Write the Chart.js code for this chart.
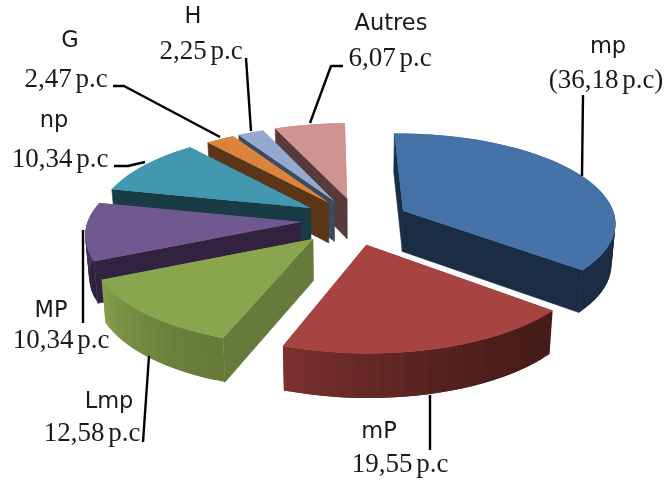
<!DOCTYPE html>
<html lang="fr">
<head>
<meta charset="utf-8">
<title>Répartition en p.c</title>
<style>
  html, body { margin: 0; padding: 0; background: #fff; }
  canvas { display: block; }
</style>
<script src="https://cdn.jsdelivr.net/npm/chart.js@4"></script>
</head>
<body>
<canvas id="chart" width="670" height="484"></canvas>
<script>
// Categories and their shares, clockwise from the top of the pie.
const categories = ['mp', 'mP', 'Lmp', 'MP', 'np', 'G', 'H', 'Autres'];
const shares = [36.18, 19.55, 12.58, 10.34, 10.34, 2.47, 2.25, 6.07];
const shareTexts = ['(36,18 p.c)', '19,55 p.c', '12,58 p.c', '10,34 p.c', '10,34 p.c', '2,47 p.c', '2,25 p.c', '6,07 p.c'];

// Slice colours: top face, radial wall, rim at the start and end of the slice.
const topColors = ['#4572A7', '#A74442', '#89A54E', '#71588F', '#4198AF', '#DB843D', '#93A9CF', '#D19392'];
const cutColors = ['#1A2D45', '#451C19', '#667A3B', '#31223F', '#193B46', '#5A3517', '#3C4A60', '#573A3A'];
const rimStartColors = ['#1A2D45', '#451C19', '#677A3A', '#2F2140', '#193B46', '#5A3517', '#3C4A60', '#573A3A'];
const rimEndColors = ['#1A2D45', '#7C312F', '#86A14C', '#5F4A7C', '#193B46', '#5A3517', '#3C4A60', '#573A3A'];

// Exploded distance of each slice, as a fraction of the radius, and fine shifts on screen.
const explode = [0.27, 0.30, 0.27, 0.23, 0.22, 0.22, 0.22, 0.23];
const shiftX = [2, -1, 3, 0, 0, 5, 5, 7];
const shiftY = [3, 0, 3, 2, 0, 0, 0, 0];

// Tilted camera used to lay the pie on a plane seen in perspective.
const camera = { cx: 350, cy: 218, sx: 213, sy: 88.8, persp: 0.12, depth: 41, taper: 0.985 };

// Text anchors (centre x, baseline y) and leader lines.
const nameAnchors = [[608, 53], [379, 438], [109, 408], [51, 317], [54, 127], [70, 47], [193, 23], [391, 30]];
const shareAnchors = [[606, 88], [400, 472], [92, 441], [61, 348], [60, 167], [66, 87], [201, 59], [390, 66]];
const leaders = [
  [[583, 95], [582, 176]],
  [[430, 395], [430, 450]],
  [[149, 356], [143, 442]],
  [[83, 230], [83, 323]],
  [[114, 166], [128, 166], [145, 162]],
  [[113, 86], [124, 86], [220, 137]],
  [[246, 58], [251, 131]],
  [[343, 66], [331, 66], [310, 123]]
];

function project(u, v, lower) {
  const w = 1 - camera.persp * v;
  let x = camera.cx + camera.sx * u / w;
  let y = camera.cy + camera.sy * v / w;
  if (lower) {
    x = camera.cx + (x - camera.cx) * camera.taper;
    y += camera.depth / Math.sqrt(w);
  }
  return [x, y];
}

function mix(a, b, t) {
  const pa = parseInt(a.slice(1), 16), pb = parseInt(b.slice(1), 16);
  const ch = s => Math.round(((pa >> s) & 255) * (1 - t) + ((pb >> s) & 255) * t);
  return `rgb(${ch(16)},${ch(8)},${ch(0)})`;
}

function fillPoly(ctx, pts, color, edge) {
  ctx.beginPath();
  pts.forEach((p, i) => i ? ctx.lineTo(p[0], p[1]) : ctx.moveTo(p[0], p[1]));
  ctx.closePath();
  ctx.fillStyle = color;
  ctx.fill();
  if (edge) {
    ctx.strokeStyle = color;
    ctx.lineWidth = 0.6;
    ctx.stroke();
  }
}

// Draws one slice: visible walls first, then the top face with the arc element itself.
function drawSlice(ctx, arc, i) {
  const s = arc.startAngle, e = arc.endAngle;
  const mid = (s + e) / 2;
  const ou = Math.cos(mid) * explode[i], ov = Math.sin(mid) * explode[i];
  const at = (a, lower) => {
    const p = project(ou + Math.cos(a), ov + Math.sin(a), lower);
    return [p[0] + shiftX[i], p[1] + shiftY[i]];
  };
  const apex = lower => {
    const p = project(ou, ov, lower);
    return [p[0] + shiftX[i], p[1] + shiftY[i]];
  };

  if (-Math.cos(s) > 0) fillPoly(ctx, [apex(false), at(s, false), at(s, true), apex(true)], cutColors[i], true);
  if (Math.cos(e) > 0) fillPoly(ctx, [apex(false), at(e, false), at(e, true), apex(true)], cutColors[i], true);

  // Rim strips overlap the following one so no hairline shows between them.
  const rimSteps = Math.max(2, Math.ceil((e - s) / 0.05));
  const rimStep = (e - s) / rimSteps;
  for (let k = 0; k < rimSteps; k++) {
    const a0 = s + rimStep * k;
    const a1 = k < rimSteps - 1 ? a0 + rimStep * 2 : a0 + rimStep;
    if (Math.sin(a0 + rimStep / 2) < -0.02) continue;
    const t = Math.pow((k + 0.5) / rimSteps, 1.6);
    fillPoly(ctx, [at(a0, false), at(a1, false), at(a1, true), at(a0, true)], mix(rimStartColors[i], rimEndColors[i], t), false);
  }

  // A plain underlay keeps the seams between the wedges below from showing through.
  const outline = [apex(false)];
  for (let k = 0; k <= 40; k++) outline.push(at(s + (e - s) * k / 40, false));
  fillPoly(ctx, outline, topColors[i], false);

  // The top face is cut into narrow wedges, each with its own local affine fit of the perspective.
  const saved = { startAngle: s, endAngle: e, circumference: arc.circumference };
  const R = arc.outerRadius;
  const wedges = Math.max(1, Math.ceil((e - s) / 0.2));
  const overlap = 0.012;
  for (let k = 0; k < wedges; k++) {
    const a0 = s + (e - s) * k / wedges, a1 = s + (e - s) * (k + 1) / wedges;
    const S0 = apex(false), S1 = at(a0, false), S2 = at(a1, false);
    const c1x = R * Math.cos(a0), c1y = R * Math.sin(a0);
    const c2x = R * Math.cos(a1), c2y = R * Math.sin(a1);
    const det = c1x * c2y - c2x * c1y;
    const v1x = S1[0] - S0[0], v1y = S1[1] - S0[1];
    const v2x = S2[0] - S0[0], v2y = S2[1] - S0[1];
    const ma = (v1x * c2y - v2x * c1y) / det;
    const mc = (v2x * c1x - v1x * c2x) / det;
    const mb = (v1y * c2y - v2y * c1y) / det;
    const md = (v2y * c1x - v1y * c2x) / det;
    ctx.save();
    ctx.setTransform(ma, mb, mc, md, S0[0] - (ma * arc.x + mc * arc.y), S0[1] - (mb * arc.x + md * arc.y));
    arc.startAngle = a0;
    arc.endAngle = k < wedges - 1 ? a1 + overlap : a1;
    arc.circumference = arc.endAngle - arc.startAngle;
    arc.draw(ctx);
    ctx.restore();
  }
  Object.assign(arc, saved);
}

const exploded3d = {
  id: 'exploded3d',
  beforeDatasetsDraw(chart) {
    const ctx = chart.ctx;
    const arcs = chart.getDatasetMeta(0).data;
    const order = arcs.map((arc, i) => i).sort((a, b) => {
      const depth = i => Math.sin((arcs[i].startAngle + arcs[i].endAngle) / 2) * explode[i];
      return depth(a) - depth(b);
    });
    order.forEach(i => drawSlice(ctx, arcs[i], i));
    return false;
  },
  afterDraw(chart) {
    const ctx = chart.ctx;
    ctx.save();
    ctx.strokeStyle = '#000';
    ctx.lineWidth = 2.4;
    ctx.lineJoin = 'round';
    leaders.forEach(line => {
      ctx.beginPath();
      line.forEach((p, i) => i ? ctx.lineTo(p[0], p[1]) : ctx.moveTo(p[0], p[1]));
      ctx.stroke();
    });
    ctx.textAlign = 'center';
    ctx.textBaseline = 'alphabetic';
    ctx.fillStyle = '#1a1a1a';
    ctx.font = '22.5px "DejaVu Sans"';
    categories.forEach((name, i) => ctx.fillText(name, nameAnchors[i][0], nameAnchors[i][1]));
    ctx.font = '27px "Liberation Serif"';
    ctx.wordSpacing = '-3px';
    shareTexts.forEach((text, i) => ctx.fillText(text, shareAnchors[i][0], shareAnchors[i][1]));
    ctx.restore();
  }
};

new Chart(document.getElementById('chart'), {
  type: 'pie',
  data: {
    labels: categories,
    datasets: [{ data: shares, backgroundColor: topColors, borderWidth: 0 }]
  },
  options: {
    responsive: false,
    animation: false,
    radius: 200,
    rotation: -1,
    plugins: { legend: { display: false }, tooltip: { enabled: false } }
  },
  plugins: [exploded3d]
});
</script>
</body>
</html>
